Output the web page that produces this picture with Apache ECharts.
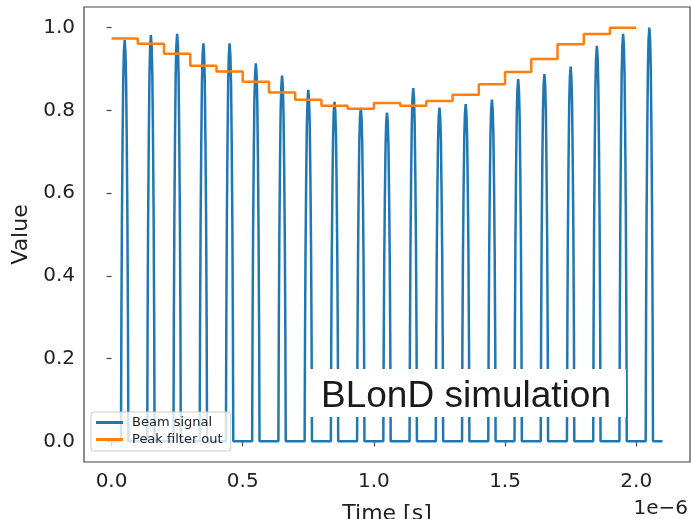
<!DOCTYPE html>
<html>
<head>
<meta charset="utf-8">
<script src="https://cdn.jsdelivr.net/npm/echarts@6/dist/echarts.min.js"></script>
<style>html,body{margin:0;padding:0;background:#fff;}#c{width:691px;height:519px;}</style>
</head>
<body>
<div id="c"></div>
<script>
// Time axis in units of 1e-6 s
var pulseCenters = [0.05,0.15,0.25,0.35,0.45,0.55,0.65,0.75,0.85,0.95,1.05,1.15,1.25,1.35,1.45,1.55,1.65,1.75,1.85,1.95,2.05];
var pulsePeaks   = [0.970,0.982,0.985,0.962,0.962,0.914,0.884,0.850,0.821,0.806,0.795,0.854,0.807,0.815,0.826,0.876,0.888,0.906,0.956,0.985,1.000];
// pulse profile: time offsets (1e-6 s) and fraction of peak
var profileOffsets = [-0.014,-0.0125,-0.0105,-0.008,-0.0055,-0.003,0,0.003,0.0055,0.008,0.0105,0.0125,0.014];
var profileFrac    = [0,0.30,0.55,0.75,0.90,0.97,1,0.97,0.90,0.75,0.55,0.30,0];
var signalStart = 0.0, signalEnd = 2.1;

var filterTimes  = [0,0.1,0.2,0.3,0.4,0.5,0.6,0.7,0.8,0.9,1.0,1.1,1.2,1.3,1.4,1.5,1.6,1.7,1.8,1.9,2.0];
var filterValues = [0.974,0.961,0.937,0.908,0.894,0.869,0.843,0.826,0.811,0.804,0.818,0.811,0.823,0.838,0.863,0.893,0.924,0.960,0.985,1.0,1.0];

var xTicks = [0,0.5,1.0,1.5,2.0];
var yTicks = [0,0.2,0.4,0.6,0.8,1.0];

var beam = [[signalStart,0]];
for (var i=0;i<pulseCenters.length;i++){
  for (var k=0;k<profileOffsets.length;k++){
    beam.push([pulseCenters[i]+profileOffsets[k], pulsePeaks[i]*profileFrac[k]]);
  }
}
beam.push([signalEnd,0]);
var filt = filterTimes.map(function(t,i){return [t,filterValues[i]];});

var FONT = 'DejaVu Sans';
var axisCol = '#444';
var chart = echarts.init(document.getElementById('c'));
chart.setOption({
  animation:false,
  backgroundColor:'#fff',
  grid:{left:84,right:1,top:7,bottom:57,show:true,containLabel:false,outerBoundsMode:'none',
    borderColor:axisCol,borderWidth:1.2,backgroundColor:'transparent'},
  xAxis:{type:'value',min:-0.105,max:2.205,
    name:'Time [s]',nameLocation:'middle',nameGap:41,
    nameTextStyle:{fontFamily:FONT,fontSize:22,color:'#222'},
    axisLine:{show:false},splitLine:{show:false},
    axisTick:{show:true,inside:false,length:5,customValues:xTicks,lineStyle:{color:axisCol,width:1.2}},
    axisLabel:{customValues:xTicks,margin:10,fontFamily:FONT,fontSize:20,color:'#222',formatter:function(v){return v.toFixed(1);}}
  },
  yAxis:{type:'value',min:-0.05,max:1.05,
    name:'Value',nameLocation:'middle',nameGap:45,nameRotate:90,
    nameTextStyle:{fontFamily:FONT,fontSize:22,color:'#222'},
    axisLine:{show:false},splitLine:{show:false},
    axisTick:{show:true,inside:false,length:5,customValues:yTicks,lineStyle:{color:axisCol,width:1.2}},
    axisLabel:{customValues:yTicks,margin:9,fontFamily:FONT,fontSize:20,color:'#222',formatter:function(v){return v.toFixed(1);}}
  },
  legend:{orient:'vertical',left:91,top:412,
    data:['Beam signal','Peak filter out'],
    icon:'rect',itemWidth:27,itemHeight:3,itemGap:4,
    padding:[4,8,5,5],
    backgroundColor:'rgba(255,255,255,0.8)',borderColor:'#ccc',borderWidth:1,borderRadius:3,
    textStyle:{fontFamily:FONT,fontSize:13,color:'#222',padding:[0,0,0,4]}
  },
  graphic:[
    {type:'rect',z:100,shape:{x:308,y:369,width:318,height:48},style:{fill:'#fff'}},
    {type:'text',z:101,left:321,top:378,style:{text:'BLonD simulation',fontFamily:'Liberation Sans',fontSize:37,fill:'#1a1a1a'}},
    {type:'text',z:101,right:3,top:499,style:{text:'1e\u22126',fontFamily:FONT,fontSize:20,fill:'#222'}}
  ],
  series:[
    {name:'Beam signal',type:'line',data:beam,symbol:'none',showSymbol:false,z:2,
      lineStyle:{color:'#1f77b4',width:2.5},itemStyle:{color:'#1f77b4'}},
    {name:'Peak filter out',type:'line',data:filt,step:'end',symbol:'none',showSymbol:false,z:3,
      lineStyle:{color:'#ff7f0e',width:2.5},itemStyle:{color:'#ff7f0e'}}
  ]
});
</script>
</body>
</html>
